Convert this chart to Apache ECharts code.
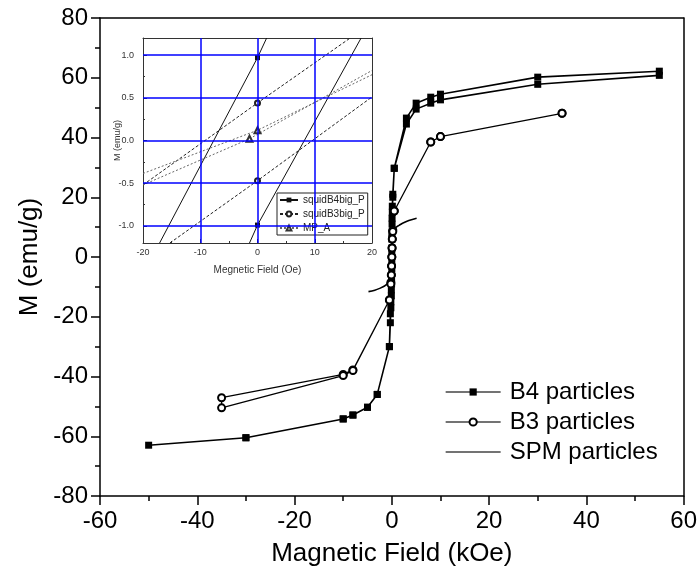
<!DOCTYPE html>
<html><head><meta charset="utf-8">
<script src="https://cdn.jsdelivr.net/npm/echarts@6/dist/echarts.min.js"></script>
<style>html,body{margin:0;padding:0;background:#fff}#c{width:700px;height:580px}</style>
</head><body><div id="c"></div>
<script>
// ---- main chart data (field in kOe, M in emu/g) ----
const b4Field = [55,30,10,8,5,3,0.5,0.2,0.1,0.05,0,0,0,-0.05,-0.1,-0.2,-0.3,-0.5,-3,-5,-8,-10,-30,-50,
                 -30,-10,-8,-5,-3,-0.5,-0.3,-0.2,-0.1,-0.05,0,0,0,0.05,0.1,0.2,0.5,3,5,8,10,30,55];
const b4Moment = [62.2,60.2,54.5,53.5,51.5,46.5,29.7,21,17,13,8,3,-2,-7,-11,-15,-19,-30,-46,-50.3,-52.9,-54.2,-60.5,-63,
                  -60.5,-54.2,-52.9,-50.3,-46,-30,-22,-17,-13,-9,-4,1,6,11,15,20,29.7,44.5,49.5,51.5,52.6,57.8,60.8];
const b3Field = [35,10,8,0.5,0.2,0.1,0.05,0,-0.05,-0.1,-0.2,-0.5,-8,-10,-35,
                 -35,-10,-8,-0.5,-0.2,-0.1,-0.05,0,0.05,0.1,0.2,0.5,8,10,35];
const b3Moment = [48.1,40.3,38.5,15.4,9,6,3,0,-3,-6,-8.5,-14.4,-37.8,-39.3,-47.1,
                  -50.5,-39.7,-38,-14.4,-9,-6,-3,0,3,6,8.5,15.4,38.5,40.3,48.1];
const spmField = [-4.8,-3.5,-2.5,-1.5,-0.8,-0.3,-0.1,0,0.1,0.3,0.8,1.5,2.2,3.5,5.1];
const spmMoment = [-11.6,-11.1,-10.5,-9.7,-8.8,-7.6,-5,0,5,8.2,9.8,10.6,11.3,12.2,12.95];

// ---- inset data (field in Oe, M in emu/g); end points lie on the inset frame ----
const inB4DownField = [-17.1,0,1.6];
const inB4DownMoment = [-1.2,0.97,1.2];
const inB4UpField = [-1.4,0,18.1];
const inB4UpMoment = [-1.2,-0.99,1.2];
const inB3DownField = [-20,0,16.2];
const inB3DownMoment = [-0.52,0.44,1.2];
const inB3UpField = [-15.3,0,20];
const inB3UpMoment = [-1.2,-0.47,0.51];
const inMpDownField = [-20,0,20];
const inMpDownMoment = [-0.386,0.12,0.77];
const inMpUpField = [-20,-1.4,20];
const inMpUpMoment = [-0.52,0.02,0.82];

// ---- tick values ----
const insetYTicks = [-1, -0.5, 0, 0.5, 1];
const insetYMinorTicks = [-0.75, -0.25, 0.25, 0.75];
const insetXGrid = [-10, 0, 10];
const insetYGrid = [-1, -0.5, 0, 0.5, 1];

const zip = (a, b) => a.map((v, i) => [v, b[i]]);
const FONT = 'Liberation Sans, Arial, sans-serif';
const inXR = [-20, 20], inYR = [-1.2, 1.2];
function insetPts(xs, ys, sym) {
  return xs.map((x, i) => {
    const inside = x > inXR[0] && x < inXR[1] && ys[i] > inYR[0] && ys[i] < inYR[1];
    return { value: [x, ys[i]], symbol: inside ? sym : 'none' };
  });
}

const chart = echarts.init(document.getElementById('c'), null, { renderer: 'canvas' });
const insetTxt = { color: '#333', fontSize: 9, fontFamily: FONT };
const option = {
  backgroundColor: '#fff',
  animation: false,
  textStyle: { fontFamily: FONT },
  grid: [
    { left: 100, top: 18, width: 585, height: 478 },
    { left: 143, top: 38, width: 229, height: 205, show: true, backgroundColor: '#fff', borderWidth: 0 }
  ],
  legend: [
    {
      data: ['B4 particles', 'B3 particles',
             { name: 'SPM particles', itemStyle: { opacity: 0, color: 'rgba(0,0,0,0)', borderColor: 'rgba(0,0,0,0)' } }],
      orient: 'vertical', left: 440, top: 372, itemWidth: 55, itemHeight: 9, itemGap: 0,
      lineStyle: { width: 1.3, color: '#444' },
      textStyle: { fontSize: 24, lineHeight: 30, color: '#000', fontFamily: FONT, padding: [0, 0, 0, 4] }
    },
    {
      data: ['squidB4big_P', 'squidB3big_P', 'MP_A'],
      orient: 'vertical', left: 277, top: 193, itemWidth: 18, itemHeight: 6, itemGap: 0,
      padding: [0, 3, 0, 2], borderColor: '#222', borderWidth: 1, backgroundColor: '#fff',
      textStyle: { fontSize: 10, lineHeight: 14, color: '#222', fontFamily: FONT }
    }
  ],
  xAxis: [
    {
      gridIndex: 0, type: 'value', min: -60, max: 60, interval: 20, position: 'bottom',
      axisLine: { onZero: false, lineStyle: { color: '#000', width: 1.5 } },
      axisTick: { inside: false, length: 9, lineStyle: { width: 1.5 } },
      minorTick: { show: true, splitNumber: 2, length: 5, lineStyle: { color: '#000', width: 1.5 } },
      splitLine: { show: false },
      axisLabel: { fontSize: 24, color: '#000', margin: 13, fontFamily: FONT },
      name: 'Magnetic Field (kOe)', nameLocation: 'middle', nameGap: 45,
      nameTextStyle: { fontSize: 26, color: '#000', fontFamily: FONT }
    },
    {
      gridIndex: 0, type: 'value', min: -60, max: 60, position: 'top',
      axisLine: { onZero: false, lineStyle: { color: '#000', width: 1.5 } },
      axisTick: { show: false }, axisLabel: { show: false }, splitLine: { show: false }
    },
    {
      gridIndex: 1, type: 'value', min: -20, max: 20, interval: 10, position: 'bottom',
      axisLine: { onZero: false, lineStyle: { color: '#333', width: 1 } },
      axisTick: { inside: true, length: 4, lineStyle: { color: '#333' } },
      minorTick: { show: true, splitNumber: 2, length: 2, lineStyle: { color: '#333' } },
      splitLine: { show: false },
      axisLabel: Object.assign({ margin: 5 }, insetTxt),
      name: 'Megnetic Field (Oe)', nameLocation: 'middle', nameGap: 22,
      nameTextStyle: { fontSize: 10, color: '#333', fontFamily: FONT }
    },
    {
      gridIndex: 1, type: 'value', min: -20, max: 20, position: 'top',
      axisLine: { onZero: false, lineStyle: { color: '#333', width: 1 } },
      axisTick: { show: false }, axisLabel: { show: false }, splitLine: { show: false }
    }
  ],
  yAxis: [
    {
      gridIndex: 0, type: 'value', min: -80, max: 80, interval: 20, position: 'left',
      axisLine: { onZero: false, lineStyle: { color: '#000', width: 1.5 } },
      axisTick: { inside: false, length: 9, lineStyle: { width: 1.5 } },
      minorTick: { show: true, splitNumber: 2, length: 5, lineStyle: { color: '#000', width: 1.5 } },
      splitLine: { show: false },
      axisLabel: { fontSize: 24, color: '#000', margin: 12, fontFamily: FONT },
      name: 'M (emu/g)', nameLocation: 'middle', nameGap: 56, nameRotate: 90,
      nameTextStyle: { fontSize: 26, color: '#000', fontFamily: FONT }
    },
    {
      gridIndex: 0, type: 'value', min: -80, max: 80, position: 'right',
      axisLine: { onZero: false, lineStyle: { color: '#000', width: 1.5 } },
      axisTick: { show: false }, axisLabel: { show: false }, splitLine: { show: false }
    },
    {
      gridIndex: 1, type: 'value', min: -1.2, max: 1.2, position: 'left',
      axisLine: { onZero: false, lineStyle: { color: '#333', width: 1 } },
      axisTick: { inside: true, length: 4, customValues: insetYTicks, lineStyle: { color: '#333' } },
      splitLine: { show: false },
      axisLabel: Object.assign({ margin: 9, customValues: insetYTicks, formatter: v => v.toFixed(1) }, insetTxt),
      name: 'M (emu/g)', nameLocation: 'middle', nameGap: 21, nameRotate: 90, nameMoveOverlap: false,
      nameTextStyle: { fontSize: 9, color: '#333', fontFamily: FONT }
    },
    {
      gridIndex: 1, type: 'value', min: -1.2, max: 1.2, position: 'left',
      axisLine: { show: false, onZero: false },
      axisTick: { inside: true, length: 2, customValues: insetYMinorTicks, lineStyle: { color: '#333' } },
      axisLabel: { show: false }, splitLine: { show: false }
    },
    {
      gridIndex: 1, type: 'value', min: -1.2, max: 1.2, position: 'right',
      axisLine: { onZero: false, lineStyle: { color: '#333', width: 1 } },
      axisTick: { show: false }, axisLabel: { show: false }, splitLine: { show: false }
    }
  ],
  series: [
    {
      name: 'B4 particles', type: 'line', xAxisIndex: 0, yAxisIndex: 0,
      data: zip(b4Field, b4Moment), symbol: 'rect', symbolSize: 7, showAllSymbol: true,
      lineStyle: { color: '#000', width: 1.6 }, itemStyle: { color: '#000' }, z: 3
    },
    {
      name: 'B3 particles', type: 'line', xAxisIndex: 0, yAxisIndex: 0,
      data: zip(b3Field, b3Moment), symbol: 'emptyCircle', symbolSize: 7, showAllSymbol: true,
      lineStyle: { color: '#000', width: 1.3 }, itemStyle: { color: '#000', borderWidth: 1 }, z: 4
    },
    {
      name: 'SPM particles', type: 'line', xAxisIndex: 0, yAxisIndex: 0, smooth: 0.4,
      data: zip(spmField, spmMoment), symbol: 'none',
      lineStyle: { color: '#000', width: 1.6 }, itemStyle: { color: '#000' }, z: 3
    },
    {
      name: 'insetGrid', type: 'line', xAxisIndex: 2, yAxisIndex: 2, data: [], z: 1, silent: true,
      markLine: {
        silent: true, symbol: ['none', 'none'], label: { show: false }, animation: false,
        lineStyle: { color: '#0000ff', width: 1.5, type: 'solid' },
        data: insetXGrid.map(v => ({ xAxis: v })).concat(insetYGrid.map(v => ({ yAxis: v })))
      }
    },
    {
      name: 'squidB4big_P', type: 'line', xAxisIndex: 2, yAxisIndex: 2,
      data: insetPts(inB4DownField, inB4DownMoment, 'rect'), symbol: 'rect', symbolSize: 5,
      lineStyle: { color: '#111', width: 1 }, itemStyle: { color: '#111' }, z: 3
    },
    {
      name: 'squidB4big_P', type: 'line', xAxisIndex: 2, yAxisIndex: 2,
      data: insetPts(inB4UpField, inB4UpMoment, 'rect'), symbol: 'rect', symbolSize: 5,
      lineStyle: { color: '#111', width: 1 }, itemStyle: { color: '#111' }, z: 3
    },
    {
      name: 'squidB3big_P', type: 'line', xAxisIndex: 2, yAxisIndex: 2,
      data: insetPts(inB3DownField, inB3DownMoment, 'emptyCircle'), symbol: 'emptyCircle', symbolSize: 5,
      lineStyle: { color: '#222', width: 1, type: [3, 2] }, itemStyle: { color: '#222' }, z: 3
    },
    {
      name: 'squidB3big_P', type: 'line', xAxisIndex: 2, yAxisIndex: 2,
      data: insetPts(inB3UpField, inB3UpMoment, 'emptyCircle'), symbol: 'emptyCircle', symbolSize: 5,
      lineStyle: { color: '#222', width: 1, type: [3, 2] }, itemStyle: { color: '#222' }, z: 3
    },
    {
      name: 'MP_A', type: 'line', xAxisIndex: 2, yAxisIndex: 2,
      data: insetPts(inMpDownField, inMpDownMoment, 'emptyTriangle'), symbol: 'emptyTriangle', symbolSize: 6,
      lineStyle: { color: '#666', width: 1, type: [2, 2] }, itemStyle: { color: '#333' }, z: 3
    },
    {
      name: 'MP_A', type: 'line', xAxisIndex: 2, yAxisIndex: 2,
      data: insetPts(inMpUpField, inMpUpMoment, 'emptyTriangle'), symbol: 'emptyTriangle', symbolSize: 6,
      lineStyle: { color: '#666', width: 1, type: [2, 2] }, itemStyle: { color: '#333' }, z: 3
    }
  ]
};
chart.setOption(option);
</script>
</body></html>
